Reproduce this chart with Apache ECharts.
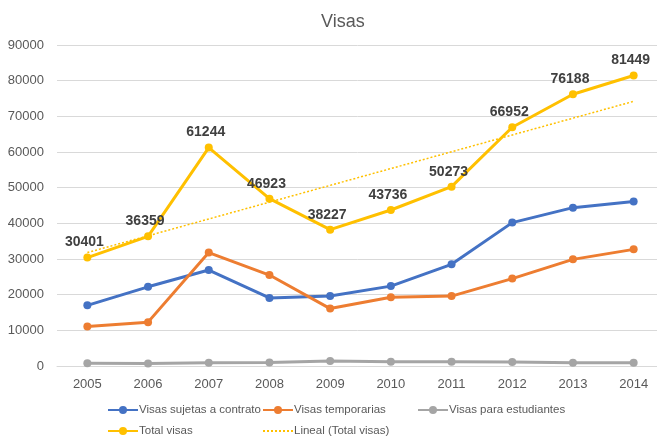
<!DOCTYPE html>
<html>
<head>
<meta charset="utf-8">
<script src="https://cdn.jsdelivr.net/npm/echarts@6/dist/echarts.min.js"></script>
<style>
  html, body { margin: 0; padding: 0; background: #ffffff; }
  #chart { width: 657px; height: 437px; }
</style>
</head>
<body>
<div id="chart"></div>
<script>
// Years on the category axis
const years = ['2005', '2006', '2007', '2008', '2009', '2010', '2011', '2012', '2013', '2014'];

// Visa counts per year
const visasContrato = [17000, 22200, 26900, 19100, 19600, 22400, 28500, 40200, 44400, 46100];
const visasTemporarias = [11100, 12300, 31800, 25500, 16100, 19300, 19600, 24500, 29900, 32700];
const visasEstudiantes = [800, 700, 900, 1000, 1400, 1200, 1200, 1100, 900, 900];
const totalVisas = [30401, 36359, 61244, 46923, 38227, 43736, 50273, 66952, 76188, 81449];

// Linear trend of the totals: values at first and last year
const trendStart = 31800;
const trendEnd = 74200;

// Y axis ticks
const yMin = 0;
const yMax = 90000;
const yStep = 10000;

const trendData = years.map(function (_, i) {
  if (i === 0) return trendStart;
  if (i === years.length - 1) return trendEnd;
  return null;
});

const FONT = 'Liberation Sans, Arial, sans-serif';
const TEXT = '#595959';

function lineSeries(name, data, color) {
  return {
    name: name,
    type: 'line',
    data: data,
    symbol: 'circle',
    symbolSize: 8,
    showSymbol: true,
    lineStyle: { color: color, width: 3 },
    itemStyle: { color: color },
    emphasis: { disabled: true },
    animation: false
  };
}

const totalSeries = lineSeries('Total visas', totalVisas, '#FFC000');
totalSeries.label = {
  show: true,
  position: 'top',
  distance: 4,
  offset: [-3, 0],
  color: '#404040',
  fontFamily: FONT,
  fontSize: 14,
  fontWeight: 'bold'
};

function legendAt(name, left, top, hideSymbol) {
  const lg = {
    data: [name],
    left: left,
    top: top,
    itemWidth: 30,
    itemHeight: 10,
    itemGap: 0,
    padding: 0,
    selectedMode: false,
    textStyle: { color: TEXT, fontFamily: FONT, fontSize: 11.5, padding: [0, 0, 0, -4] }
  };
  if (hideSymbol) lg.itemStyle = { opacity: 0 };
  return lg;
}

const chart = echarts.init(document.getElementById('chart'), null, { renderer: 'canvas' });
chart.setOption({
  backgroundColor: '#ffffff',
  animation: false,
  title: {
    text: 'Visas',
    left: 316,
    top: 8,
    textStyle: { color: TEXT, fontFamily: FONT, fontSize: 18, fontWeight: 'normal' }
  },
  legend: [
    legendAt('Visas sujetas a contrato', 107, 404),
    legendAt('Visas temporarias', 262, 404),
    legendAt('Visas para estudiantes', 417, 404),
    legendAt('Total visas', 107, 425),
    legendAt('Lineal (Total visas)', 262, 425, true)
  ],
  grid: {
    left: 57, top: 45, width: 607, bottom: 71,
    containLabel: false,
    outerBoundsMode: 'none'
  },
  xAxis: {
    type: 'category',
    data: years,
    boundaryGap: true,
    axisLine: { lineStyle: { color: '#D9D9D9', width: 1 } },
    axisTick: { show: false },
    axisLabel: { color: TEXT, fontFamily: FONT, fontSize: 13, margin: 12 }
  },
  yAxis: {
    type: 'value',
    min: yMin,
    max: yMax,
    interval: yStep,
    axisLine: { show: false },
    axisTick: { show: false },
    splitLine: { lineStyle: { color: '#D9D9D9', width: 1 } },
    axisLabel: {
      color: TEXT, fontFamily: FONT, fontSize: 13, margin: 13,
      formatter: function (v) { return String(v); }
    }
  },
  series: [
    lineSeries('Visas sujetas a contrato', visasContrato, '#4472C4'),
    lineSeries('Visas temporarias', visasTemporarias, '#ED7D31'),
    lineSeries('Visas para estudiantes', visasEstudiantes, '#A5A5A5'),
    totalSeries,
    {
      name: 'Lineal (Total visas)',
      type: 'line',
      data: trendData,
      connectNulls: true,
      symbol: 'none',
      lineStyle: { color: '#FFC000', width: 1.5, type: [2, 2] },
      itemStyle: { color: '#FFC000' },
      emphasis: { disabled: true },
      animation: false
    }
  ]
});
</script>
</body>
</html>
